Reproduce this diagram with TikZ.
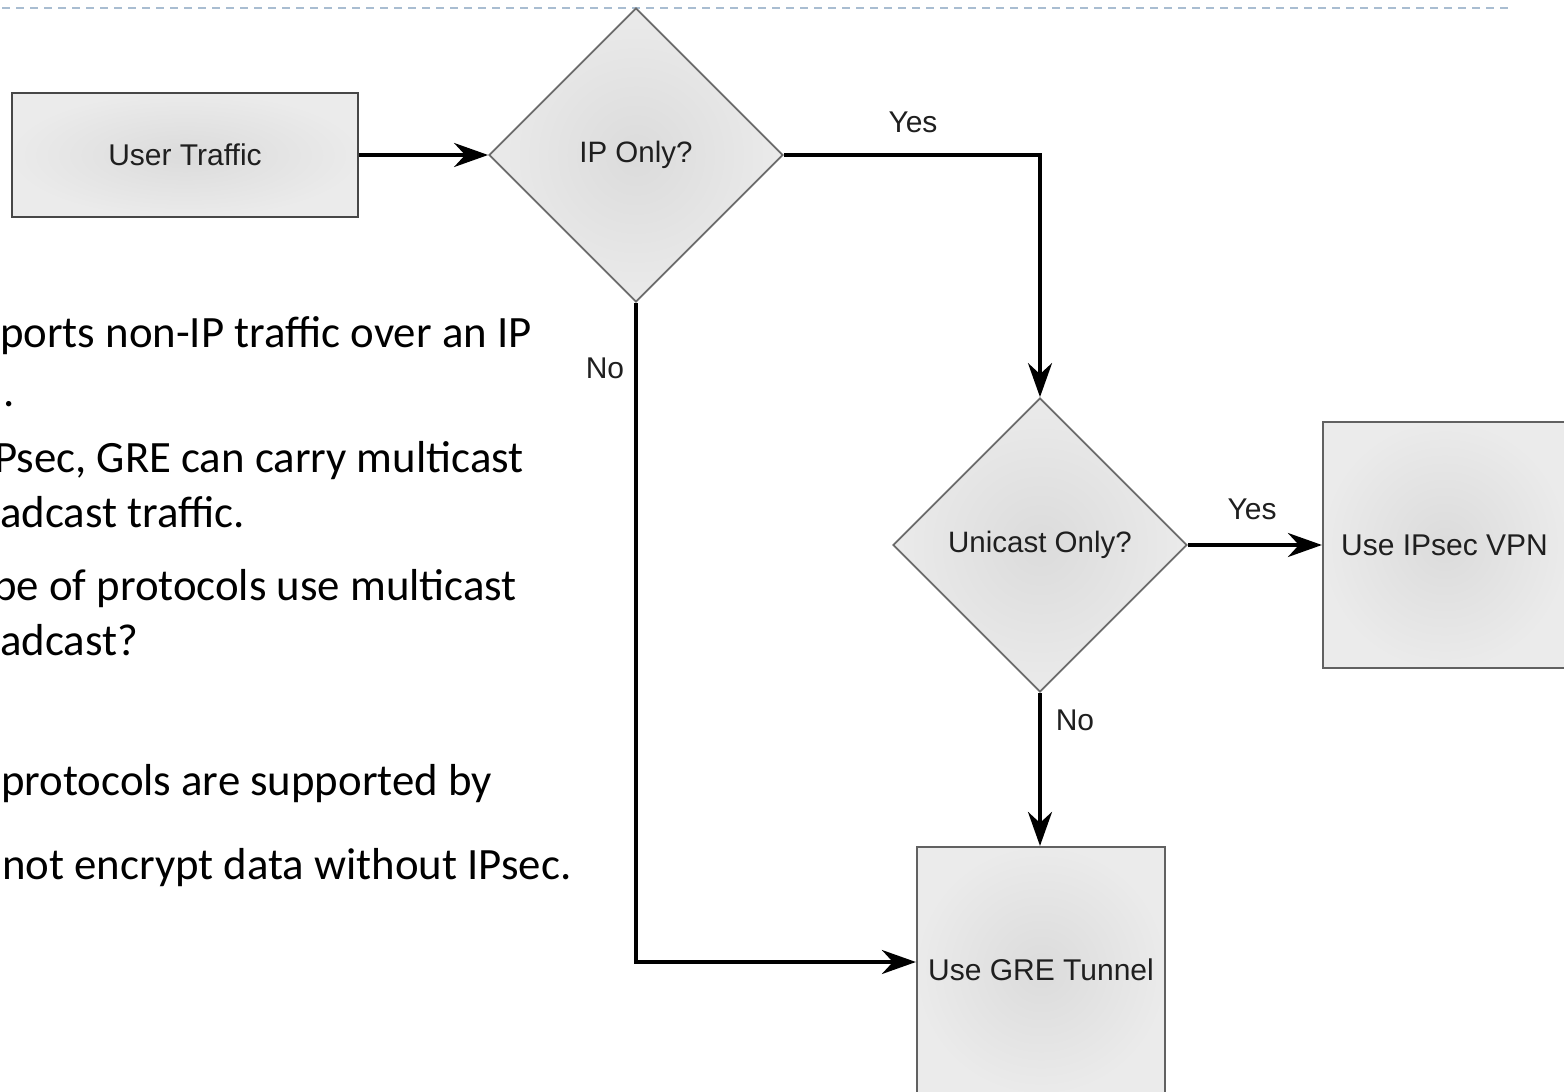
\documentclass[tikz,border=0pt]{standalone}
\usepackage{fontspec}
\setmainfont{Liberation Sans}
\newfontfamily\calib{Carlito}
\usetikzlibrary{shapes.geometric,arrows.meta}
\definecolor{dashc}{HTML}{A9BDD1}
\begin{document}
\begin{tikzpicture}[x=1pt,y=-1pt,
  box/.style={draw=black!72, line width=2.2pt, inner color=black!14, outer color=black!8,
    font=\fontsize{30}{34}\selectfont, inner sep=0pt, text=black!88},
  dia/.style={diamond, aspect=1, draw=black!58, line width=1.8pt, inner color=black!14, outer color=black!8,
    minimum width=294pt, minimum height=294pt, inner sep=0pt, font=\fontsize{29.5}{34}\selectfont, text=black!88},
  arr/.style={line width=3.6pt, -{Stealth[length=34pt,width=24pt,inset=11pt]}},
  lbl/.style={font=\fontsize{30}{34}\selectfont, inner sep=0pt, text=black!88},
  side/.style={font=\calib\fontsize{44.8}{52}\selectfont, anchor=base west, inner sep=0pt}]
\useasboundingbox (0,0) rectangle (1564,1092);
\begin{scope}
\clip (0,0) rectangle (1564,1092);
\fill[white] (0,0) rectangle (1564,1092);
\draw[dashc, line width=2.5pt, dash pattern=on 8pt off 6pt] (2,8) -- (1508,8);
% side text
\node[side] (t1) at (0,347) {ports non-IP traffic over an IP};
\node[side] (t2) at (3,406) {.};
\node[side] (t3) at (-6,472) {Psec, GRE can carry multicast};
\node[side] (t4) at (0,527) {adcast traffic.};
\node[side] (t5) at (-7,600) {pe of protocols use multicast};
\node[side] (t6) at (0,655) {adcast?};
\node[side] (t7) at (1,795) {protocols are supported by};
\node[side] (t8) at (2,879) {not encrypt data without IPsec.};
% flowchart
\node[box, minimum width=346pt, minimum height=124pt] (ut) at (185,155) {User Traffic};
\node[dia] (ip) at (636,155) {IP Only?};
\node[dia] (uni) at (1040,545) {Unicast Only?};
\node[box, draw=black!62, minimum width=243pt, minimum height=246pt] (vpn) at (1444.5,545) {Use IPsec VPN};
\node[box, draw=black!62, minimum width=248pt, minimum height=246pt] (gre) at (1041,970) {Use GRE Tunnel};
\draw[arr] (ut.east) -- (ip.west);
\draw[arr] (ip.east) -| (uni.north);
\draw[arr] (uni.east) -- (vpn.west);
\draw[arr] (uni.south) -- (uni.south |- gre.north);
\draw[arr] (ip.south) |- ([yshift=8pt]gre.west);
\node[lbl] (y1) at (913,122) {Yes};
\node[lbl] (y2) at (1252,509) {Yes};
\node[lbl] (n1) at (1075,720) {No};
\node[lbl] (n2) at (605,368) {No};
\end{scope}
\end{tikzpicture}
\end{document}
